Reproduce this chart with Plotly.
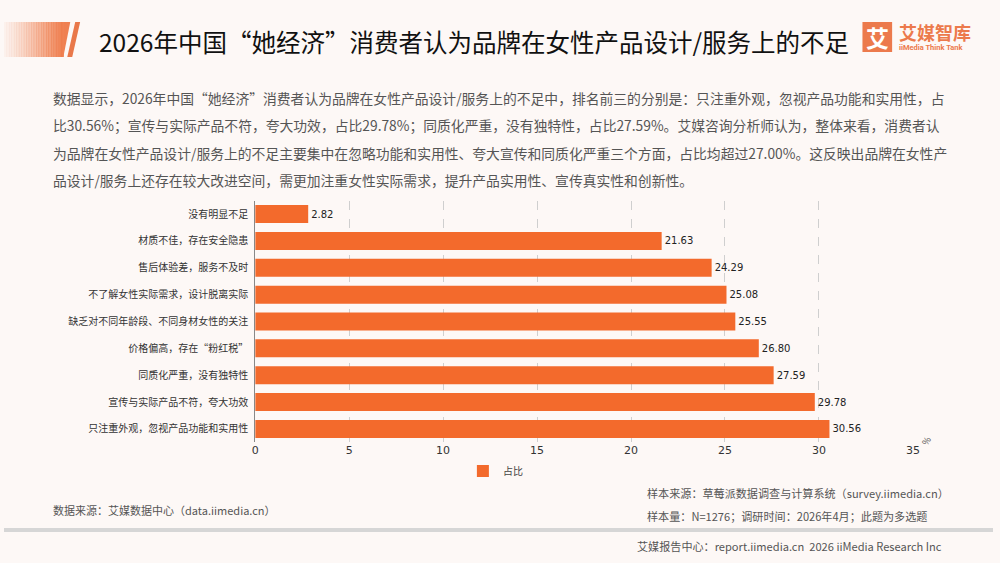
import plotly.graph_objects as go

categories = [
    "没有明显不足",
    "材质不佳，存在安全隐患",
    "售后体验差，服务不及时",
    "不了解女性实际需求，设计脱离实际",
    "缺乏对不同年龄段、不同身材女性的关注",
    "价格偏高，存在“粉红税”",
    "同质化严重，没有独特性",
    "宣传与实际产品不符，夸大功效",
    "只注重外观，忽视产品功能和实用性",
]
values = [2.82, 21.63, 24.29, 25.08, 25.55, 26.80, 27.59, 29.78, 30.56]
series_name = "占比"
x_ticks = [0, 5, 10, 15, 20, 25, 30, 35]

title = "2026年中国“她经济”消费者认为品牌在女性产品设计/服务上的不足"
paragraph = [
    "数据显示，2026年中国“她经济”消费者认为品牌在女性产品设计/服务上的不足中，排名前三的分别是：只注重外观，忽视产品功能和实用性，占",
    "比30.56%；宣传与实际产品不符，夸大功效，占比29.78%；同质化严重，没有独特性，占比27.59%。艾媒咨询分析师认为，整体来看，消费者认",
    "为品牌在女性产品设计/服务上的不足主要集中在忽略功能和实用性、夸大宣传和同质化严重三个方面，占比均超过27.00%。这反映出品牌在女性产",
    "品设计/服务上还存在较大改进空间，需更加注重女性实际需求，提升产品实用性、宣传真实性和创新性。",
]
source_left = "数据来源：艾媒数据中心（data.iimedia.cn）"
source_r1 = "样本来源：草莓派数据调查与计算系统（survey.iimedia.cn）"
source_r2 = "样本量：N=1276；调研时间：2026年4月；此题为多选题"
footer = "艾媒报告中心：report.iimedia.cn  2026 iiMedia Research Inc"

W, H = 1000, 563
BAR = "#F36A2C"
FONT = "Noto Sans CJK SC"


def px(x):
    return x / W


def py(y):
    return 1 - y / H


fig = go.Figure()
fig.add_trace(go.Bar(
    x=values, y=categories, orientation="h", name=series_name,
    marker=dict(color=BAR, line=dict(width=0)),
    text=[f"{v:.2f}" for v in values], textposition="outside",
    textfont=dict(size=10, color="#222", family="DejaVu Sans"),
    cliponaxis=False,
))

shapes = []
# header gradient block
n = 24
x0, x1 = 0, 60
for i in range(n):
    a = x0 + (x1 - x0) * i / n
    b = x0 + (x1 - x0) * (i + 1) / n + 0.5
    shapes.append(dict(type="rect", xref="paper", yref="paper",
                       x0=px(a), x1=px(b), y0=py(57), y1=py(22),
                       fillcolor=f"rgba(238,120,70,{0.04 + 0.9 * ((i + 1) / n) ** 1.3:.3f})",
                       line=dict(width=0), layer="below"))
shapes.append(dict(type="path", xref="paper", yref="paper",
                   path=f"M {px(60)},{py(22)} L {px(67)},{py(22)} L {px(60)},{py(57)} Z",
                   fillcolor="rgba(238,120,70,0.94)", line=dict(width=0)))
shapes.append(dict(type="path", xref="paper", yref="paper",
                   path=f"M {px(72)},{py(22)} L {px(77)},{py(22)} L {px(69)},{py(57)} L {px(64)},{py(57)} Z",
                   fillcolor="#E9784A", line=dict(width=0)))
# logo square
shapes.append(dict(type="rect", xref="paper", yref="paper",
                   x0=px(868), x1=px(898), y0=py(52), y1=py(22),
                   fillcolor="#EC7A4C", line=dict(width=0)))
# footer separator
shapes.append(dict(type="rect", xref="paper", yref="paper",
                   x0=0, x1=1, y0=py(532), y1=py(528),
                   fillcolor="#d6d6d6", line=dict(width=0)))

ann = []
ann.append(dict(text=title, x=px(94), y=py(42), xref="paper", yref="paper",
                xanchor="left", yanchor="middle", showarrow=False,
                font=dict(size=24.5, color="#111", family=FONT)))
ann.append(dict(text="<b>艾</b>", x=px(883), y=py(37), xref="paper", yref="paper",
                xanchor="center", yanchor="middle", showarrow=False,
                font=dict(size=23, color="white", family=FONT)))
ann.append(dict(text="<b>艾媒智库</b>", x=px(903), y=py(32), xref="paper", yref="paper",
                xanchor="left", yanchor="middle", showarrow=False,
                font=dict(size=18, color="#EC7A4C", family=FONT)))
ann.append(dict(text="<b>iiMedia Think Tank</b>", x=px(903), y=py(48), xref="paper", yref="paper",
                xanchor="left", yanchor="middle", showarrow=False,
                font=dict(size=7.5, color="#EC7A4C", family="Roboto")))
for i, line in enumerate(paragraph):
    ann.append(dict(text=line, x=px(48), y=py(98 + 27.3 * i), xref="paper", yref="paper",
                    xanchor="left", yanchor="middle", showarrow=False,
                    font=dict(size=13.8, color="#555", family=FONT)))
ann.append(dict(text="%", x=px(932), y=py(441), xref="paper", yref="paper",
                xanchor="center", yanchor="middle", showarrow=False, textangle=-60,
                font=dict(size=9, color="#555", family=FONT)))
ann.append(dict(text=source_left, x=px(48), y=py(510), xref="paper", yref="paper",
                xanchor="left", yanchor="middle", showarrow=False,
                font=dict(size=11, color="#555", family=FONT)))
ann.append(dict(text=source_r1, x=px(648), y=py(493), xref="paper", yref="paper",
                xanchor="left", yanchor="middle", showarrow=False,
                font=dict(size=11.1, color="#555", family=FONT)))
ann.append(dict(text=source_r2, x=px(648), y=py(516), xref="paper", yref="paper",
                xanchor="left", yanchor="middle", showarrow=False,
                font=dict(size=11.1, color="#555", family=FONT)))
ann.append(dict(text=footer, x=px(638), y=py(546), xref="paper", yref="paper",
                xanchor="left", yanchor="middle", showarrow=False,
                font=dict(size=11.1, color="#555", family=FONT)))

fig.update_layout(
    width=W, height=H, margin=dict(l=0, r=0, t=0, b=0),
    paper_bgcolor="#FDF8F6", plot_bgcolor="rgba(0,0,0,0)",
    font=dict(family=FONT, color="#333"),
    bargap=0.33,
    shapes=shapes, annotations=ann,
    showlegend=True,
    legend=dict(orientation="h", x=px(464), y=py(471), xanchor="left", yanchor="middle",
                font=dict(size=10, color="#444", family=FONT), bgcolor="rgba(0,0,0,0)",
                itemwidth=30),
    xaxis=dict(domain=[px(254), px(919)], range=[0, 35], tickvals=x_ticks,
               showgrid=True, gridcolor="#cfcfcf", griddash="dash", gridwidth=1,
               zeroline=False, showline=False, ticks="",
               tickfont=dict(size=11, color="#333", family="DejaVu Sans")),
    yaxis=dict(domain=[py(442.4), py(200.6)], autorange="reversed",
               showline=True, linecolor="#888", linewidth=1, ticks="",
               ticklabelstandoff=4,
               tickfont=dict(size=10, color="#333", family=FONT)),
)

fig.write_html("out.html")
